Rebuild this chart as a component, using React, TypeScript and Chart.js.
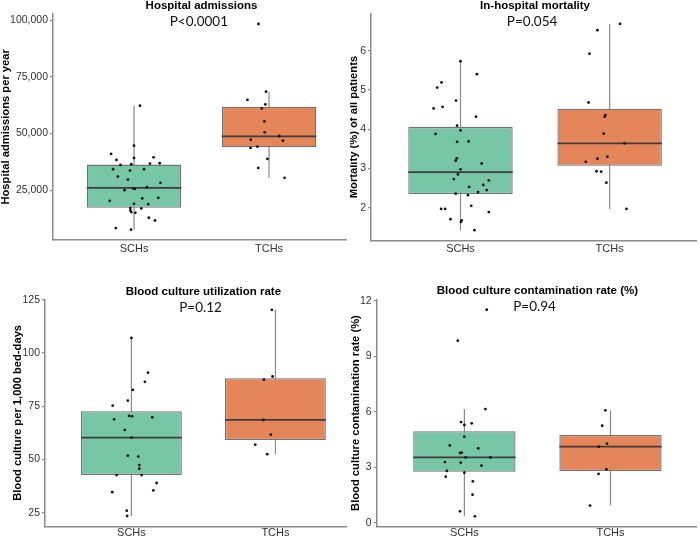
import React, { useEffect, useRef } from "react";
import { Chart, registerables } from "chart.js";

Chart.register(...registerables);

// ---------- categories ----------
const groups = ["SCHs", "TCHs"];

// ---------- Panel 1: Hospital admissions ----------
const admSCH = [62270, 44650, 41000, 38350, 39200, 39500, 36140, 36440, 36730, 36880, 34230, 33640, 34230, 31000, 29680, 28220, 24990, 25720, 25570, 26300, 20290, 21320, 21610, 18970, 18820, 17060, 16910, 16030, 15300, 15000, 12800, 11630, 8250, 7520];
const admSCHJitter = [0.044, 0, -0.17, -0.13, 0, 0.145, -0.1, -0.02, 0.118, 0.19, -0.155, -0.03, 0.074, -0.12, -0.045, 0.196, -0.07, -0.005, 0.007, 0.096, -0.18, 0.061, 0.18, 0, 0.105, -0.027, 0.054, -0.027, -0.02, 0.01, 0.11, 0.155, -0.135, -0.022];
const admTCH = [98390, 68500, 64910, 62860, 61100, 55370, 50530, 48920, 47300, 46860, 44220, 43630, 38790, 34820, 30420];
const admTCHJitter = [-0.078, -0.022, -0.16, -0.027, -0.054, -0.034, -0.032, 0.076, -0.135, 0.103, -0.086, -0.137, -0.012, -0.08, 0.115];
// whisker low, Q1, median, Q3, whisker high
const admBoxSCH = [7520, 17210, 26010, 36290, 62270];
const admBoxTCH = [30420, 43920, 48770, 61830, 68500];
const admTicks = [25000, 50000, 75000, 100000];

// ---------- Panel 2: In-hospital mortality ----------
const mortSCH = [5.73, 5.4, 5.19, 5.06, 4.73, 4.57, 4.53, 4.32, 4.09, 3.97, 3.88, 3.68, 3.69, 3.26, 3.2, 3.13, 2.98, 2.85, 2.73, 2.7, 2.53, 2.58, 2.45, 2.4, 2.36, 2.32, 2.05, 1.97, 1.97, 1.89, 1.71, 1.68, 1.64, 1.43];
const mortSCHJitter = [0, 0.11, -0.127, -0.156, -0.03, -0.12, -0.18, 0.104, -0.023, 0, -0.167, -0.023, 0.054, -0.025, -0.032, 0.142, 0, -0.017, -0.045, 0.19, 0.058, 0.153, 0.176, 0.118, -0.032, 0.05, 0.072, -0.13, -0.103, 0.19, -0.067, 0.008, 0.003, 0.094];
const mortTCH = [6.68, 6.52, 5.92, 4.68, 4.36, 4.32, 3.89, 3.64, 3.3, 3.25, 3.17, 2.93, 2.92, 2.64, 1.97];
const mortTCHJitter = [0.07, -0.082, -0.135, -0.141, -0.029, -0.033, -0.04, 0.1, -0.015, -0.082, -0.16, -0.088, -0.057, -0.022, 0.113];
const mortBoxSCH = [1.43, 2.35, 2.91, 4.06, 5.73];
const mortBoxTCH = [1.97, 3.07, 3.64, 4.52, 6.68];
const mortTicks = [2, 3, 4, 5, 6];

// ---------- Panel 3: Blood culture utilization rate ----------
const bcuSCH = [107.1, 90.8, 86.5, 82.7, 77.7, 75.3, 70.5, 70.3, 69.8, 68.9, 63.9, 60.3, 51.8, 51.4, 47.4, 45.7, 42.7, 42.7, 39.0, 35.5, 34.7, 26.0, 23.5];
const bcuSCHJitter = [0, 0.115, 0.094, 0.01, -0.025, -0.13, -0.016, 0.005, 0.145, -0.12, -0.046, 0, -0.025, 0.048, 0.055, 0.055, -0.103, 0.071, 0.175, 0.152, -0.133, -0.032, -0.03];
const bcuTCH = [120.3, 89.0, 87.5, 68.6, 61.7, 57.0, 52.5];
const bcuTCHJitter = [-0.025, -0.02, -0.08, -0.083, -0.032, -0.14, -0.057];
const bcuBoxSCH = [23.5, 42.7, 60.3, 72.7, 107.1];
const bcuBoxTCH = [52.5, 59.2, 68.6, 88.2, 120.3];
const bcuTicks = [25, 50, 75, 100, 125];

// ---------- Panel 4: Blood culture contamination rate ----------
const bccSCH = [11.51, 9.84, 6.15, 5.45, 5.29, 5.38, 4.66, 4.19, 4.03, 3.78, 3.8, 3.54, 3.54, 3.29, 3.26, 3.1, 2.81, 2.72, 2.5, 2.25, 1.53, 0.63, 0.36];
const bccSCHJitter = [0.153, -0.045, 0.144, -0.023, 0, 0.05, 0, -0.1, 0.095, -0.03, -0.018, 0.009, 0.178, -0.133, -0.025, 0.117, -0.12, 0, -0.128, 0.058, 0.056, -0.03, 0.072];
const bccTCH = [6.08, 5.25, 4.28, 4.12, 2.9, 2.65, 0.94];
const bccTCHJitter = [-0.035, -0.057, -0.024, -0.08, -0.028, -0.082, -0.14];
const bccBoxSCH = [0.36, 2.77, 3.54, 4.95, 6.15];
const bccBoxTCH = [0.94, 2.81, 4.12, 4.75, 6.08];
const bccTicks = [0, 3, 6, 9, 12];

// ---------- styles ----------
const GREEN = "#77c6a5";
const ORANGE = "#e5855a";
const BOX_BORDER = "#737373";
const WHISKER = "#8a8a8a";
const MEDIAN = "#3c3c3c";
const AXIS = "#8c8c8c";
const POINT = "#151515";
const TICK_COLOR = "#333333";
const BOX_WIDTH = 0.7;
const SANS = '"Liberation Sans", Arial, sans-serif';

type PanelProps = {
  left: number;
  top: number;
  title: string;
  pval: string;
  yTitle: string;
  sch: number[];
  schJ: number[];
  tch: number[];
  tchJ: number[];
  boxS: number[];
  boxT: number[];
  yTicks: number[];
  fmt: (v: number) => string;
  pad: { left: number; right: number; top: number; bottom: number };
  yw: number;
  xh: number;
  xmax: number;
  yTitlePad: number;
  xLabelPad: number;
};

function BoxPanel(p: PanelProps) {
  const ref = useRef<HTMLCanvasElement | null>(null);
  useEffect(() => {
    if (!ref.current) return;
    const all = [...p.sch, ...p.tch, ...p.boxS, ...p.boxT];
    const lo = Math.min(...all);
    const hi = Math.max(...all);
    const ext = (hi - lo) * 0.05;

    const textPlugin = {
      id: "panelText",
      afterDraw(chart: any) {
        const { ctx, chartArea, scales } = chart;
        const cx = scales.x.getPixelForValue(1.5);
        ctx.save();
        ctx.textAlign = "center";
        ctx.textBaseline = "alphabetic";
        ctx.fillStyle = "#000";
        ctx.font = `bold 11.5px ${SANS}`;
        ctx.fillText(p.title, cx, chartArea.top - 5);
        ctx.fillStyle = "#111";
        ctx.font = `13.5px Lato, "Open Sans", sans-serif`;
        ctx.fillText(p.pval, scales.x.getPixelForValue(1.48), chartArea.top + 12);
        ctx.restore();
      },
    };

    const whisker = (c: number, b: number[]) => ({
      type: "line" as const,
      data: [
        { x: c, y: b[0] },
        { x: c, y: b[4] },
      ],
      borderColor: WHISKER,
      borderWidth: 1.2,
      pointRadius: 0,
      order: 4,
    });
    const median = (c: number, b: number[]) => ({
      type: "line" as const,
      data: [
        { x: c - BOX_WIDTH / 2, y: b[2] },
        { x: c + BOX_WIDTH / 2, y: b[2] },
      ],
      borderColor: MEDIAN,
      borderWidth: 1.7,
      pointRadius: 0,
      order: 2,
    });

    const chart = new Chart(ref.current, {
      type: "scatter",
      data: {
        datasets: [
          whisker(1, p.boxS),
          whisker(2, p.boxT),
          {
            type: "bar",
            data: [
              { x: 1, y: [p.boxS[1], p.boxS[3]] },
              { x: 2, y: [p.boxT[1], p.boxT[3]] },
            ],
            backgroundColor: [GREEN, ORANGE],
            borderColor: BOX_BORDER,
            borderWidth: 1.3,
            borderSkipped: false,
            barPercentage: BOX_WIDTH,
            categoryPercentage: 1,
            order: 3,
          } as any,
          median(1, p.boxS),
          median(2, p.boxT),
          {
            type: "scatter",
            data: [
              ...p.sch.map((v, i) => ({ x: 1 + p.schJ[i], y: v })),
              ...p.tch.map((v, i) => ({ x: 2 + p.tchJ[i], y: v })),
            ],
            pointRadius: 1.4,
            pointBackgroundColor: POINT,
            pointBorderWidth: 0,
            order: 1,
          },
        ] as any,
      },
      options: {
        responsive: false,
        animation: false,
        devicePixelRatio: 1,
        layout: { padding: p.pad },
        plugins: {
          legend: { display: false },
          tooltip: { enabled: false },
          title: { display: false },
        },
        scales: {
          x: {
            type: "linear",
            offset: false,
            min: 0.4,
            max: p.xmax,
            afterBuildTicks: (s: any) => {
              s.ticks = groups.map((_, i) => ({ value: i + 1 }));
            },
            afterFit: (s: any) => {
              s.height = p.xh;
            },
            ticks: {
              autoSkip: false,
              maxRotation: 0,
              padding: p.xLabelPad,
              color: TICK_COLOR,
              font: { family: SANS, size: 11 },
              callback: (v: any) => groups[Number(v) - 1] ?? "",
            },
            grid: { display: false, drawTicks: false, offset: false },
            border: { display: true, color: AXIS, width: 1.5 },
          },
          y: {
            type: "linear",
            offset: false,
            beginAtZero: false,
            min: lo - ext,
            max: hi + ext,
            afterBuildTicks: (s: any) => {
              s.ticks = p.yTicks.map((v) => ({ value: v }));
            },
            afterFit: (s: any) => {
              s.width = p.yw;
            },
            ticks: {
              padding: 2,
              color: TICK_COLOR,
              font: { family: SANS, size: 10.5 },
              callback: (v: any) => p.fmt(Number(v)),
            },
            grid: {
              display: true,
              drawOnChartArea: false,
              drawTicks: true,
              tickLength: 3,
              color: AXIS,
              lineWidth: 1.2,
              offset: false,
            },
            border: { display: true, color: AXIS, width: 1.5 },
            title: {
              display: true,
              text: p.yTitle,
              color: "#000",
              font: { family: SANS, size: 11.2, weight: "bold", lineHeight: 1 },
              padding: { top: p.yTitlePad, bottom: 0 },
            },
          },
        },
      } as any,
      plugins: [textPlugin],
    });
    return () => chart.destroy();
  }, []);
  return (
    <canvas
      ref={ref}
      width={350}
      height={269}
      style={{ position: "absolute", left: p.left, top: p.top, width: 350, height: 269 }}
    />
  );
}

const fmtComma = (v: number) => v.toLocaleString("en-US");
const fmtPlain = (v: number) => String(v);

export default function App() {
  return (
    <div style={{ position: "absolute", left: 0, top: 0, width: 700, height: 538, background: "#fff", overflow: "hidden" }}>
      <BoxPanel
        left={0}
        top={0}
        title="Hospital admissions"
        pval="P<0.0001"
        yTitle="Hospital admissions per year"
        sch={admSCH}
        schJ={admSCHJitter}
        tch={admTCH}
        tchJ={admTCHJitter}
        boxS={admBoxSCH}
        boxT={admBoxTCH}
        yTicks={admTicks}
        fmt={fmtComma}
        pad={{ left: 0, right: 2, top: 13.7, bottom: 0 }}
        yw={53}
        xh={29}
        xmax={2.57}
        yTitlePad={0.4}
        xLabelPad={2}
      />
      <BoxPanel
        left={350}
        top={0}
        title="In-hospital mortality"
        pval="P=0.054"
        yTitle="Mortality (%) of all patients"
        sch={mortSCH}
        schJ={mortSCHJitter}
        tch={mortTCH}
        tchJ={mortTCHJitter}
        boxS={mortBoxSCH}
        boxT={mortBoxTCH}
        yTicks={mortTicks}
        fmt={fmtPlain}
        pad={{ left: 0, right: 0, top: 13.6, bottom: 0 }}
        yw={21}
        xh={28.5}
        xmax={2.579}
        yTitlePad={-1.6}
        xLabelPad={2}
      />
      <BoxPanel
        left={0}
        top={269}
        title="Blood culture utilization rate"
        pval="P=0.12"
        yTitle="Blood culture per 1,000 bed-days"
        sch={bcuSCH}
        schJ={bcuSCHJitter}
        tch={bcuTCH}
        tchJ={bcuTCHJitter}
        boxS={bcuBoxSCH}
        boxT={bcuBoxTCH}
        yTicks={bcuTicks}
        fmt={fmtPlain}
        pad={{ left: 0, right: 2, top: 30.5, bottom: 0 }}
        yw={45}
        xh={11.7}
        xmax={2.49}
        yTitlePad={12.4}
        xLabelPad={0}
      />
      <BoxPanel
        left={350}
        top={269}
        title="Blood culture contamination rate (%)"
        pval="P=0.94"
        yTitle="Blood culture contamination rate (%)"
        sch={bccSCH}
        schJ={bccSCHJitter}
        tch={bccTCH}
        tchJ={bccTCHJitter}
        boxS={bccBoxSCH}
        boxT={bccBoxTCH}
        yTicks={bccTicks}
        fmt={fmtPlain}
        pad={{ left: 0, right: 0, top: 30.4, bottom: 0 }}
        yw={26.7}
        xh={11.3}
        xmax={2.585}
        yTitlePad={0.4}
        xLabelPad={0}
      />
    </div>
  );
}
